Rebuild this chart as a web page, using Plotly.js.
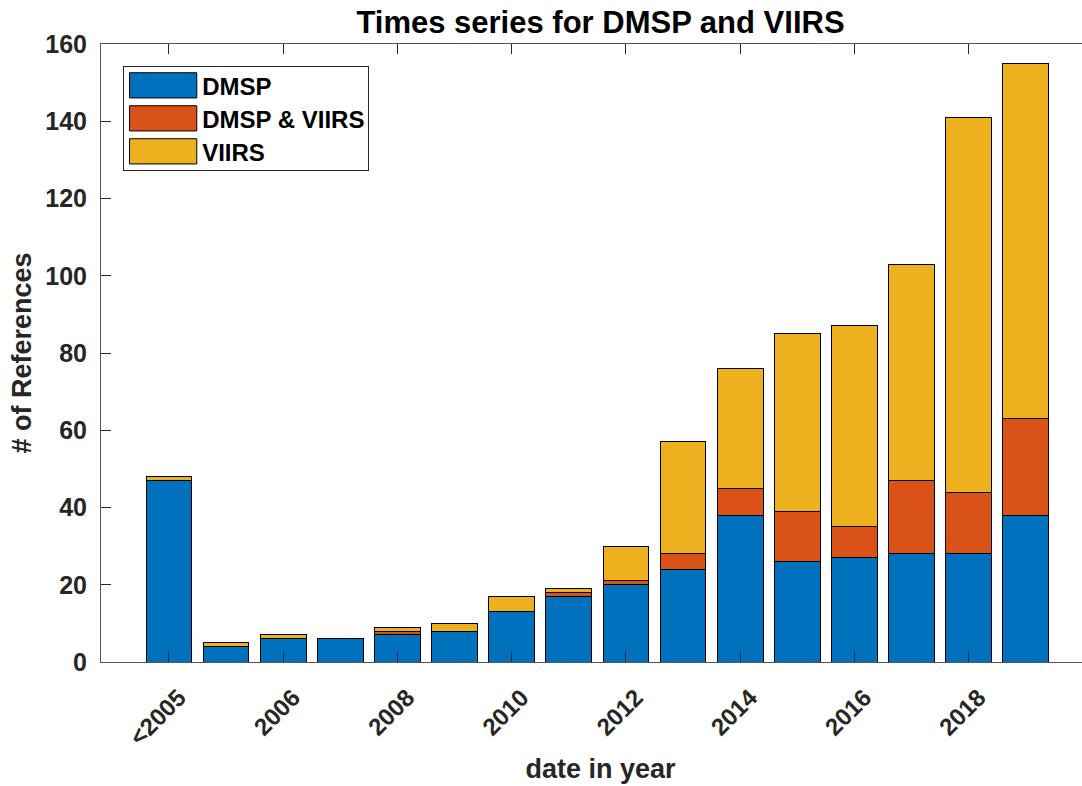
<!DOCTYPE html>
<html>
<head>
<meta charset="utf-8">
<script src="https://cdn.plot.ly/plotly-3.0.1.min.js"></script>
<style>
html,body{margin:0;padding:0;overflow:hidden;background:#fff;}
#chart{width:1100px;height:786px;}
</style>
</head>
<body>
<div id="chart"></div>
<script>
const categories = ['<2005','2005','2006','2007','2008','2009','2010','2011','2012','2013','2014','2015','2016','2017','2018','2019'];
const dmsp       = [47, 4, 6, 6, 7, 8, 13, 17, 20, 24, 38, 26, 27, 28, 28, 38];
const dmspViirs  = [0, 0, 0, 0, 1, 0, 0, 1, 1, 4, 7, 13, 8, 19, 16, 25];
const viirs      = [1, 1, 1, 0, 1, 2, 4, 1, 9, 29, 31, 46, 52, 56, 97, 92];
const tickLabels = ['<2005','2006','2008','2010','2012','2014','2016','2018'];
const yTicks     = [0, 20, 40, 60, 80, 100, 120, 140, 160];

const FONT = 'Liberation Sans, Arial, Helvetica, sans-serif';
const edge = {color:'#000000', width:1};

const traces = [
  {type:'bar', name:'DMSP', x:categories, y:dmsp, marker:{color:'#0072BD', line:edge}},
  {type:'bar', name:'DMSP & VIIRS', x:categories, y:dmspViirs, marker:{color:'#D95319', line:edge}},
  {type:'bar', name:'VIIRS', x:categories, y:viirs, marker:{color:'#EDB120', line:edge}}
];

const layout = {
  width:1100, height:786,
  margin:{l:101, r:0, t:44, b:124},
  barmode:'stack', bargap:0.2,
  paper_bgcolor:'#ffffff', plot_bgcolor:'#ffffff',
  font:{family:FONT, color:'#262626'},
  title:{text:'<b>Times series for DMSP and VIIRS</b>', font:{size:31, color:'#000000', family:FONT},
         xref:'paper', x:0.5, xanchor:'center', yref:'container', y:0.972, yanchor:'middle'},
  xaxis:{
    type:'category', range:[-1.19, 16.30],
    tickmode:'array', tickvals:tickLabels, ticktext:tickLabels.map(t=>'<b>'+t.replace('<','&lt;')+'</b>'),
    tickangle:-45, ticks:'inside', ticklen:10, tickwidth:1, tickcolor:'#262626',
    ticklabelstandoff:11, ticklabelshift:10,
    showline:true, linecolor:'#555555', linewidth:1, mirror:'allticks',
    showgrid:false, zeroline:false,
    tickfont:{size:24, color:'#262626', family:FONT},
    title:{text:'<b>date in year</b>', font:{size:27, color:'#262626', family:FONT}, standoff:9}
  },
  yaxis:{
    range:[0,160], tickmode:'array', tickvals:yTicks, ticktext:yTicks.map(v=>'<b>'+v+'</b>'),
    ticks:'inside', ticklen:10, tickwidth:1, tickcolor:'#262626',
    showline:true, linecolor:'#555555', linewidth:1, mirror:'allticks',
    showgrid:false, zeroline:false,
    tickfont:{size:25, color:'#262626', family:FONT},
    ticklabelstandoff:8,
    title:{text:'<b># of References</b>', font:{size:27, color:'#262626', family:FONT}, standoff:5}
  },
  showlegend:true,
  legend:{
    x:0.0222, y:0.964, xanchor:'left', yanchor:'top',
    bgcolor:'#ffffff', bordercolor:'#262626', borderwidth:1,
    font:{size:24, color:'#000000', family:FONT},
    itemwidth:68, traceorder:'normal', tracegroupgap:0,
    itemclick:false, itemdoubleclick:false
  },
  hovermode:false
};

function parseTranslate(s){
  const m = /translate\(\s*([-\d.e]+)[\s,]+([-\d.e]+)/.exec(s || '');
  return m ? [parseFloat(m[1]), parseFloat(m[2])] : [0, 0];
}

Plotly.newPlot('chart', traces, layout, {displayModeBar:false, staticPlot:true}).then(function(){
  const leg = document.querySelector('.legend');
  if (!leg) return;
  const bg = leg.querySelector('rect.bg');
  const items = leg.querySelectorAll('g.traces');
  if (items.length) {
    const t0 = parseTranslate(items[0].getAttribute('transform'));
    items.forEach(function(tr, i){
      const t = parseTranslate(tr.getAttribute('transform'));
      tr.setAttribute('transform', 'translate(' + t[0] + ',' + (t0[1] - 4 + 33 * i) + ')');
    });
    if (bg) bg.setAttribute('height', parseFloat(bg.getAttribute('height')) - 10);
  }
  const legLeft = bg ? bg.getBoundingClientRect().left : 0;
  leg.querySelectorAll('.legendpoints path').forEach(function(p){
    p.removeAttribute('transform');
    const r = p.getBoundingClientRect();
    const cx = r.left + r.width / 2;
    const dx = legLeft + 39.5 - cx;
    p.setAttribute('transform', 'translate(' + dx + ',0) scale(5.6,2.1)');
    p.style.vectorEffect = 'non-scaling-stroke';
  });
  leg.querySelectorAll('text.legendtext').forEach(function(t){ t.style.fontWeight = 'bold'; });
});
</script>
</body>
</html>
